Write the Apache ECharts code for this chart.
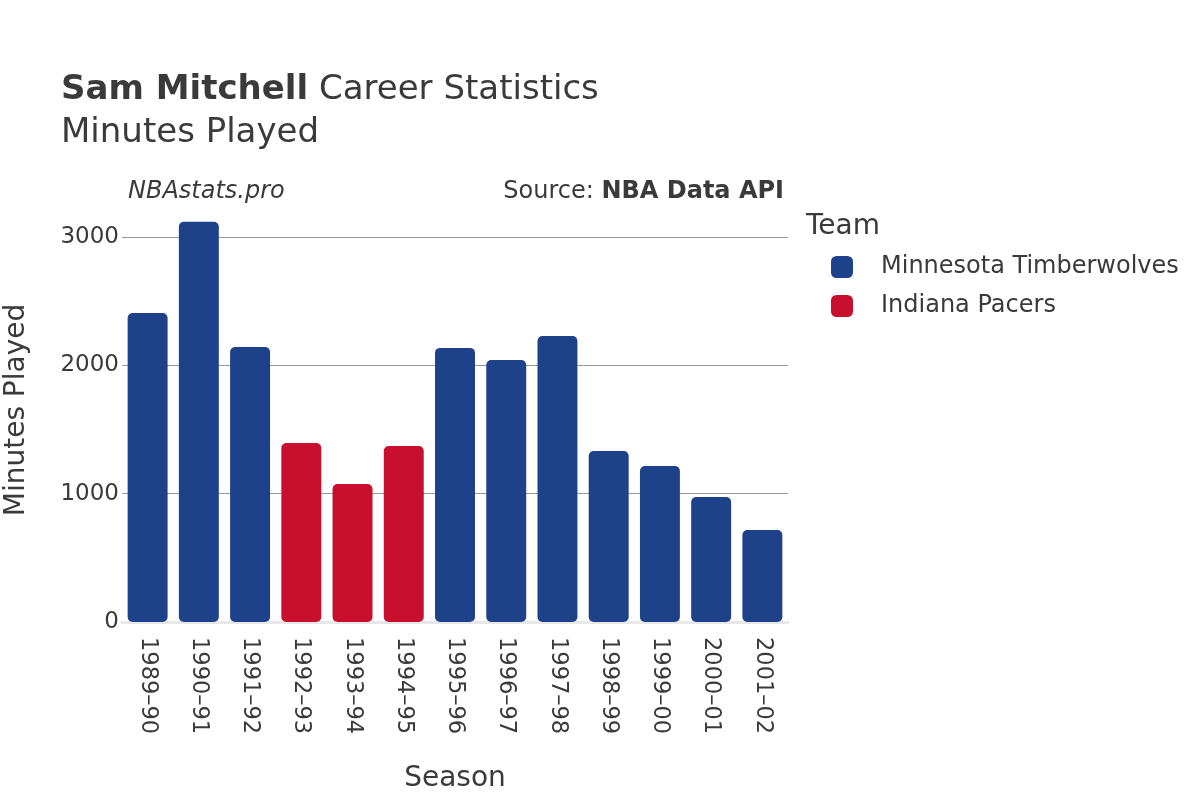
<!DOCTYPE html>
<html><head><meta charset="utf-8">
<script src="https://cdn.jsdelivr.net/npm/echarts@6/dist/echarts.min.js"></script>
<style>html,body{margin:0;padding:0;background:#fff}#c{width:1200px;height:800px}</style>
</head><body><div id="c"></div>
<script>
const seasons = ['1989–90','1990–91','1991–92','1992–93','1993–94','1994–95','1995–96','1996–97','1997–98','1998–99','1999–00','2000–01','2001–02'];
const timberwolves = [2408, 3118, 2143, null, null, null, 2136, 2042, 2229, 1333, 1216, 974, 717];
const pacers = [null, null, null, 1395, 1076, 1372, null, null, null, null, null, null, null];
const yTicks = [0, 1000, 2000, 3000];

const F = 'DejaVu Sans';
const C = '#3a3a3a';
const chart = echarts.init(document.getElementById('c'), null, {renderer: 'canvas'});
chart.setOption({
  animation: false,
  textStyle: {fontFamily: F},
  grid: {left: 122, right: 412, top: 237, bottom: 178, containLabel: false},
  graphic: [
    {type: 'text', x: 61, y: 90, style: {rich: {
        b: {fontFamily: F, fontSize: 34, fontWeight: 'bold', fill: C},
        n: {fontFamily: F, fontSize: 34, fontWeight: 'normal', fill: C}
      }, text: '{b|Sam Mitchell}{n| Career Statistics}', textVerticalAlign: 'middle'}},
    {type: 'text', x: 61, y: 133, style: {text: 'Minutes Played', font: '34px "DejaVu Sans"', fill: C, textVerticalAlign: 'middle'}},
    {type: 'text', x: 128, y: 192, style: {text: 'NBAstats.pro', font: 'italic 24px "DejaVu Sans"', fill: C, textVerticalAlign: 'middle'}},
    {type: 'text', x: 784, y: 192, style: {rich: {
        a: {fontFamily: F, fontSize: 24, fill: C},
        b: {fontFamily: F, fontSize: 24, fontWeight: 'bold', fill: C}
      }, text: '{a|Source: }{b|NBA Data API}', textAlign: 'right', textVerticalAlign: 'middle'}},
    {type: 'text', x: 806, y: 227, style: {text: 'Team', font: '28px "DejaVu Sans"', fill: C, textVerticalAlign: 'middle'}},
    {type: 'text', x: 455, y: 779, style: {text: 'Season', font: '28px "DejaVu Sans"', fill: C, textAlign: 'center', textVerticalAlign: 'middle'}},
    {type: 'text', x: 17, y: 410, rotation: Math.PI / 2, style: {text: 'Minutes Played', font: '28px "DejaVu Sans"', fill: C, textAlign: 'center', textVerticalAlign: 'middle'}}
  ],
  legend: {
    orient: 'vertical', left: 826, top: 250,
    itemWidth: 22, itemHeight: 22, itemGap: 15, icon: 'roundRect',
    textStyle: {fontFamily: F, fontSize: 24, color: C, padding: [0, 0, 0, 23]},
    data: ['Minnesota Timberwolves', 'Indiana Pacers']
  },
  xAxis: {
    type: 'category', data: seasons,
    axisLine: {show: true, lineStyle: {color: '#e8e8e8', width: 3}},
    axisTick: {show: false},
    axisLabel: {rotate: -90, fontSize: 22.5, color: C, margin: 15, fontFamily: F}
  },
  yAxis: {
    type: 'value', min: 0, max: 3000, interval: 1000,
    axisLine: {show: false}, axisTick: {show: false},
    axisLabel: {fontSize: 23, color: C, margin: 3, fontFamily: F,
      formatter: v => yTicks.includes(v) ? String(v) : ''},
    splitLine: {lineStyle: {color: '#999', width: 1}}
  },
  series: [
    {name: 'Minnesota Timberwolves', type: 'bar', stack: 'a', data: timberwolves, clip: false,
     barCategoryGap: '22%', itemStyle: {color: '#1d428a', borderRadius: 5}},
    {name: 'Indiana Pacers', type: 'bar', stack: 'a', data: pacers, clip: false,
     barCategoryGap: '22%', itemStyle: {color: '#c8102e', borderRadius: 5}}
  ]
});
</script></body></html>
